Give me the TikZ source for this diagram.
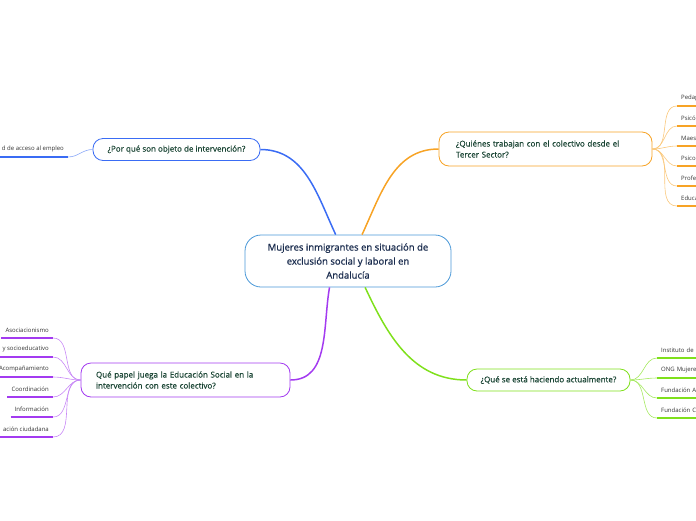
\documentclass[tikz,border=0pt]{standalone}
\usepackage{fontspec}
\setmainfont{Open Sans}
\newfontfamily\heavyfont[FakeBold=0.9]{Open Sans}
\newfontfamily\branchfont[FakeBold=0.4]{Open Sans}
\usetikzlibrary{positioning}
\definecolor{centeredge}{HTML}{4A98D8}
\definecolor{centertext}{HTML}{1B2D4F}
\definecolor{branchtext}{HTML}{1A4534}
\definecolor{blueedge}{HTML}{3A6CF4}
\definecolor{orangeedge}{HTML}{F7A325}
\definecolor{purpleedge}{HTML}{A33BF0}
\definecolor{greenedge}{HTML}{7FE01C}

\begin{document}
\begin{tikzpicture}[x=1pt, y=-1pt,
    hub/.style={draw=centeredge, fill=white, rounded corners=16pt, line width=0.8pt,
                minimum width=206pt, minimum height=52pt, align=center, text=centertext,
                font=\heavyfont\fontsize{9.5}{14}\selectfont},
    topic/.style={draw, fill=white, rounded corners=10pt, line width=0.8pt,
                  text=branchtext, font=\branchfont\fontsize{8}{11}\selectfont},
    wide/.style={topic, align=left, text width=179pt, minimum height=34pt},
    leafR/.style={anchor=south west, inner xsep=4pt, inner ysep=0pt, minimum height=15pt,
                  text width=40pt, align=left, font=\fontsize{6}{7}\selectfont, text=black!80},
    leafL/.style={anchor=south east, inner xsep=4pt, inner ysep=0pt, minimum height=15pt,
                  align=right, font=\fontsize{6}{7}\selectfont, text=black!80},
    main/.style={line width=1.5pt},
    twig/.style={line width=0.6pt},
    bar/.style={line width=1.8pt}
  ]
  \useasboundingbox (0,0) rectangle (696,520);
  \clip (0,0) rectangle (696,520);

  % central topic
  \node[hub] (c) at (348,261)
    {Mujeres inmigrantes en situación de\\ exclusión social y laboral en\\ Andalucía};

  % branches
  \node[topic, draw=blueedge, minimum width=167pt, minimum height=22pt] (por) at (176.5,149.5)
    {¿Por qué son objeto de intervención?};
  \node[wide, draw=orangeedge, inner xsep=17pt] (qui) at (545.5,149)
    {¿Quiénes trabajan con el colectivo desde el\\ Tercer Sector?};
  \node[wide, draw=purpleedge, inner xsep=15pt] (pap) at (185.5,380)
    {Qué papel juega la Educación Social en la\\ intervención con este colectivo?};
  \node[topic, draw=greenedge, minimum width=163pt, minimum height=22pt] (que) at (548.5,380)
    {¿Qué se está haciendo actualmente?};

  \draw[main, blueedge] (c.115) to[out=115, in=0] (por.east);
  \draw[main, orangeedge] (c.62) to[out=65, in=180] (qui.west);
  \draw[main, purpleedge] (c.-125) to[out=-100, in=0] (pap.east);
  \draw[main, greenedge] (c.-57) to[out=-65, in=180] (que.west);

  % leaves: blue
  \node[leafL] (b1) at (68,157) {d de acceso al empleo};
  \draw[twig, blueedge!60] (por.west) to[out=180, in=0] (b1.south east);
  \draw[bar, blueedge] (b1.south west) -- (b1.south east);

  % leaves: orange
  \foreach \t/\y [count=\i] in {Pedag/106, Psicó/126, Maes/146, Psico/166, Profe/186, Educa/206}{
    \node[leafR] (o\i) at (677,\y) {\t};
    \draw[twig, orangeedge!60] (qui.east) to[out=0, in=180] (o\i.south west);
    \draw[bar, orangeedge] (o\i.south west) -- (o\i.south east);
  }

  % leaves: purple
  \foreach \t/\y [count=\i] in {Asociacionismo/338, y socioeducativo/357, Acompañamiento/377,
      Coordinación/397, Información/417, ación ciudadana/437}{
    \node[leafL] (p\i) at (53,\y) {\t};
    \draw[twig, purpleedge!60] (pap.west) to[out=180, in=0] (p\i.south east);
    \draw[bar, purpleedge] (p\i.south west) -- (p\i.south east);
  }

  % leaves: green
  \foreach \t/\y [count=\i] in {Instituto de la/358, ONG Mujere/378, Fundación At/398, Fundación Co/418}{
    \node[leafR] (g\i) at (657,\y) {\t};
    \draw[twig, greenedge!70] (que.east) to[out=0, in=180] (g\i.south west);
    \draw[bar, greenedge] (g\i.south west) -- (g\i.south east);
  }
\end{tikzpicture}
\end{document}
